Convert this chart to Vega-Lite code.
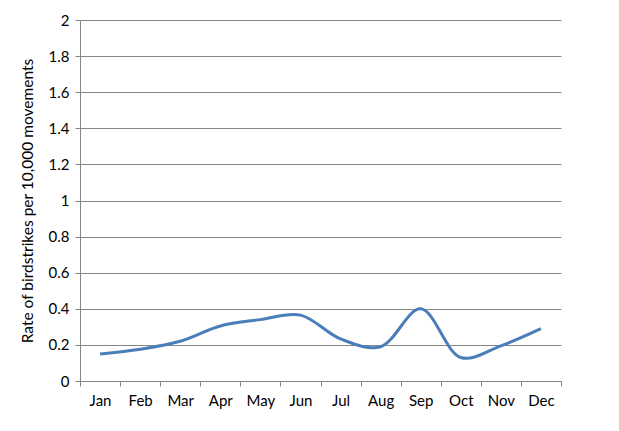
{
  "$schema": "https://vega.github.io/schema/vega-lite/v6.json",
  "autosize": "none",
  "width": 481,
  "height": 361,
  "padding": {"left": 80, "top": 20, "right": 58, "bottom": 50},
  "background": "white",
  "config": {"view": {"stroke": null}, "font": "Lato"},
  "data": {"values": [
    {"month": "Jan", "rate": 0.15},
    {"month": "Feb", "rate": 0.176},
    {"month": "Mar", "rate": 0.22},
    {"month": "Apr", "rate": 0.305},
    {"month": "May", "rate": 0.34},
    {"month": "Jun", "rate": 0.365},
    {"month": "Jul", "rate": 0.233},
    {"month": "Aug", "rate": 0.19},
    {"month": "Sep", "rate": 0.40},
    {"month": "Oct", "rate": 0.13},
    {"month": "Nov", "rate": 0.195},
    {"month": "Dec", "rate": 0.29}
  ]},
  "mark": {"type": "line", "interpolate": "catmull-rom", "color": "#4A7EBB", "strokeWidth": 3},
  "encoding": {
    "x": {
      "field": "month", "type": "ordinal", "sort": null,
      "scale": {"type": "band", "paddingInner": 0, "paddingOuter": 0},
      "axis": {"title": null, "labelAngle": 0, "labelFontSize": 15, "labelColor": "#000", "labelPadding": 7,
               "tickBand": "extent", "tickSize": 5, "tickColor": "#868686", "domainColor": "#868686", "grid": false, "labelFont": "Lato"}
    },
    "y": {
      "field": "rate", "type": "quantitative",
      "scale": {"domain": [0, 2], "nice": false},
      "axis": {"title": "Rate of birdstrikes per 10,000 movements", "titleFontSize": 15.5, "titleFontWeight": "normal", "titleColor": "#000",
               "titlePadding": 13, "format": ".1~f", "values": [0,0.2,0.4,0.6,0.8,1,1.2,1.4,1.6,1.8,2], "labelFontSize": 15, "labelColor": "#000",
               "labelPadding": 6, "tickSize": 5, "tickColor": "#868686", "domainColor": "#868686", "gridColor": "#868686", "grid": true, "gridOpacity": 1, "labelFont": "Lato", "titleFont": "Lato"}
    }
  }
}
